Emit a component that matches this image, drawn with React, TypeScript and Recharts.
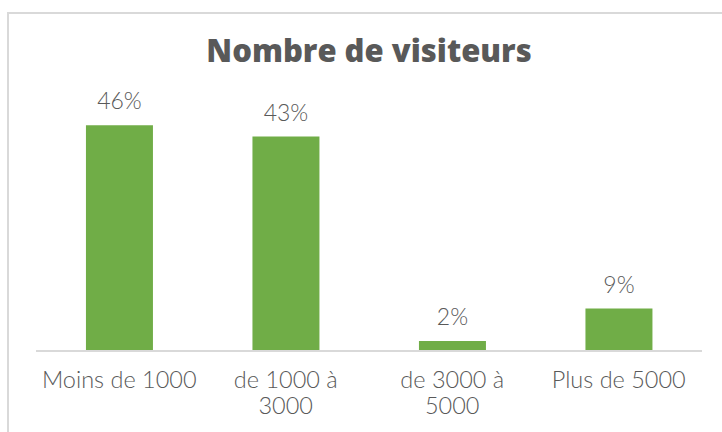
import React from 'react';
import { BarChart, Bar, XAxis, YAxis, LabelList } from 'recharts';

const categories = ['Moins de 1000', 'de 1000 à\n3000', 'de 3000 à\n5000', 'Plus de 5000'];
const visitorShare = [0.457, 0.434, 0.02, 0.086];

const data = categories.map((name, i) => ({ name, value: visitorShare[i] }));

const FONT = 'Lato, "Open Sans", sans-serif';
const GREY = '#595959';

const CategoryTick = (props: any) => {
  const { x, y, payload } = props;
  const lines = String(payload.value).split('\n');
  return (
    <text x={x} y={y} textAnchor="middle" fill={GREY} fontFamily={FONT} fontSize={23.5} fontWeight={300}>
      {lines.map((line, i) => (
        <tspan key={i} x={x} dy={i === 0 ? 29 : 26}>
          {line}
        </tspan>
      ))}
    </text>
  );
};

const App: React.FC = () => {
  return (
    <div style={{ position: 'absolute', left: 0, top: 0, width: 722, height: 432, background: '#fff', overflow: 'hidden' }}>
      <div
        style={{
          position: 'absolute',
          left: 7,
          top: 12,
          width: 740,
          height: 440,
          borderLeft: '2px solid #d9d9d9',
          borderTop: '2px solid #d9d9d9',
        }}
      />
      <div
        style={{
          position: 'absolute',
          left: 0,
          width: 738,
          top: 29,
          textAlign: 'center',
          fontFamily: '"Open Sans", Lato, sans-serif',
          fontWeight: 800,
          fontSize: 31,
          lineHeight: 'normal',
          color: GREY,
          whiteSpace: 'nowrap',
        }}
      >
        Nombre de visiteurs
      </div>
      <div style={{ position: 'absolute', left: 0, top: 0 }}>
        <BarChart
          width={722}
          height={432}
          data={data}
          margin={{ top: 104, right: 20, left: 36, bottom: 21 }}
          barCategoryGap="30%"
        >
          <XAxis
            dataKey="name"
            axisLine={{ stroke: '#d9d9d9', strokeWidth: 2 }}
            tickLine={false}
            tick={<CategoryTick />}
            interval={0}
            height={60}
          />
          <YAxis hide domain={[0, 0.5]} />
          <Bar dataKey="value" fill="#70AD47" isAnimationActive={false}>
            <LabelList
              dataKey="value"
              position="top"
              offset={16}
              formatter={(v: number) => `${Math.round(v * 100)}%`}
              fill={GREY}
              fontFamily={FONT}
              fontSize={23}
              fontWeight={300}
            />
          </Bar>
        </BarChart>
      </div>
    </div>
  );
};

export default App;
